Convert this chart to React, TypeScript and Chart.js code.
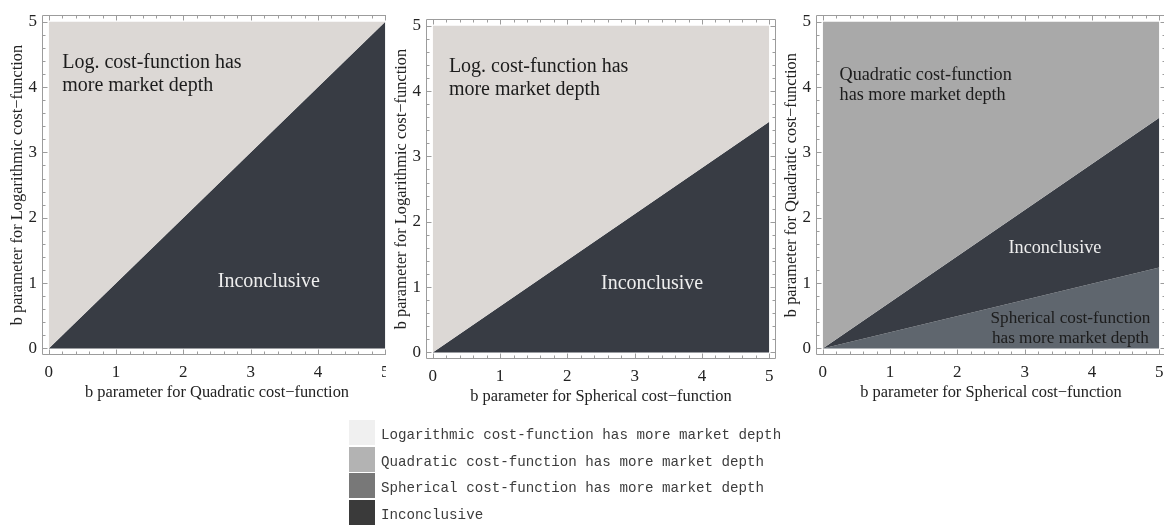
import React, { useEffect, useRef } from "react";
import { Chart, registerables } from "chart.js";

Chart.register(...registerables);

// ---------- data ----------
const xEnds = [0, 5];
const logVsQuadBoundary = [0, 5];
const logVsSphBoundary = [0, 3.53];
const quadVsSphUpper = [0, 3.53];
const quadVsSphLower = [0, 1.24];
const tickValues = [0, 1, 2, 3, 4, 5];
const tickLabels = ["0", "1", "2", "3", "4", "5"];
const axisMin = -0.1;
const axisMax = 5.1;

const xTitles = [
  "b parameter for Quadratic cost\u2212function",
  "b parameter for Spherical cost\u2212function",
  "b parameter for Spherical cost\u2212function",
];
const yTitles = [
  "b parameter for Logarithmic cost\u2212function",
  "b parameter for Logarithmic cost\u2212function",
  "b parameter for Quadratic cost\u2212function",
];

const legendLabels = [
  "Logarithmic cost-function has more market depth",
  "Quadratic cost-function has more market depth",
  "Spherical cost-function has more market depth",
  "Inconclusive",
];
const legendColors = ["#f0f0f0", "#b3b3b3", "#787878", "#3a3a3a"];

const C_LOG = "#dcd8d5";
const C_QUAD = "#a9a9a9";
const C_SPH = "#5f666e";
const C_INC = "#383c44";
const DARK_TEXT = "#1c1c1c";
const LIGHT_TEXT = "#eeeeee";

type Note = { text: string; x: number; y: number; align: CanvasTextAlign; color: string; size: number };

const notes1: Note[] = [
  { text: "Log. cost-function has", x: 0.2, y: 4.37, align: "left", color: DARK_TEXT, size: 20 },
  { text: "more market depth", x: 0.2, y: 4.02, align: "left", color: DARK_TEXT, size: 20 },
  { text: "Inconclusive", x: 3.27, y: 1.02, align: "center", color: LIGHT_TEXT, size: 20 },
];
const notes2: Note[] = [
  { text: "Log. cost-function has", x: 0.24, y: 4.37, align: "left", color: DARK_TEXT, size: 20 },
  { text: "more market depth", x: 0.24, y: 4.02, align: "left", color: DARK_TEXT, size: 20 },
  { text: "Inconclusive", x: 3.26, y: 1.05, align: "center", color: LIGHT_TEXT, size: 20 },
];
const notes3: Note[] = [
  { text: "Quadratic cost-function", x: 0.25, y: 4.18, align: "left", color: DARK_TEXT, size: 18.2 },
  { text: "has more market depth", x: 0.25, y: 3.87, align: "left", color: DARK_TEXT, size: 18.2 },
  { text: "Inconclusive", x: 3.45, y: 1.54, align: "center", color: LIGHT_TEXT, size: 18.2 },
  { text: "Spherical cost-function", x: 3.68, y: 0.46, align: "center", color: DARK_TEXT, size: 17.2 },
  { text: "has more market depth", x: 3.68, y: 0.16, align: "center", color: DARK_TEXT, size: 17.2 },
];

const SERIF = '"Liberation Serif", "Times New Roman", serif';

const pts = (ys: number[]) => xEnds.map((x, i) => ({ x, y: ys[i] }));

function regionDataset(ys: number[], fill: any, color: string) {
  return {
    data: pts(ys),
    fill,
    backgroundColor: color,
    borderColor: color,
    borderWidth: 0,
    pointRadius: 0,
    tension: 0,
  };
}

const panel1Datasets = () => [
  regionDataset(logVsQuadBoundary, { value: 5 }, C_LOG),
  regionDataset(logVsQuadBoundary, { value: 0 }, C_INC),
];
const panel2Datasets = () => [
  regionDataset(logVsSphBoundary, { value: 5 }, C_LOG),
  regionDataset(logVsSphBoundary, { value: 0 }, C_INC),
];
const panel3Datasets = () => [
  regionDataset(quadVsSphUpper, { value: 5 }, C_QUAD),
  regionDataset(quadVsSphUpper, "+1", C_INC),
  regionDataset(quadVsSphLower, { value: 0 }, C_SPH),
];

const frameTicksPlugin = {
  id: "frameTicks",
  afterDraw(chart: any) {
    const { ctx, chartArea: a, scales } = chart;
    const xs = scales.x;
    const ys = scales.y;
    ctx.save();
    ctx.strokeStyle = "#9c9c9c";
    ctx.lineWidth = 1;
    const L = Math.round(a.left) + 0.5;
    const R = Math.round(a.right) - 0.5;
    const T = Math.round(a.top) + 0.5;
    const B = Math.round(a.bottom) - 0.5;
    ctx.beginPath();
    ctx.rect(L, T, R - L, B - T);
    ctx.stroke();
    ctx.beginPath();
    for (let i = 0; i <= 25; i++) {
      const v = i * 0.2;
      const major = i % 5 === 0;
      const len = major ? 5 : 3;
      const px = Math.round(xs.getPixelForValue(v)) + 0.5;
      const py = Math.round(ys.getPixelForValue(v)) + 0.5;
      ctx.moveTo(px, B);
      ctx.lineTo(px, B - len);
      ctx.moveTo(px, T);
      ctx.lineTo(px, T + len);
      ctx.moveTo(L, py);
      ctx.lineTo(L + len, py);
      ctx.moveTo(R, py);
      ctx.lineTo(R - len, py);
    }
    ctx.stroke();
    ctx.restore();
  },
};

const notesPlugin = {
  id: "notes",
  afterDatasetsDraw(chart: any, _args: any, opts: any) {
    const notes: Note[] = opts.notes || [];
    const { ctx, scales } = chart;
    ctx.save();
    ctx.textBaseline = "middle";
    for (const n of notes) {
      ctx.font = `${n.size}px ${SERIF}`;
      ctx.fillStyle = n.color;
      ctx.textAlign = n.align;
      ctx.fillText(n.text, scales.x.getPixelForValue(n.x), scales.y.getPixelForValue(n.y));
    }
    ctx.restore();
  },
};

function makeConfig(datasets: any[], notes: Note[], xTitle: string, yTitle: string) {
  const tickFont = { family: SERIF, size: 17 };
  const titleFont = { family: SERIF, size: 16.4 };
  const setTicks = (s: any) => {
    s.ticks = tickValues.map((v) => ({ value: v }));
  };
  const fmt = (v: any) => {
    const i = tickValues.indexOf(Number(v));
    return i >= 0 ? tickLabels[i] : "";
  };
  return {
    type: "line",
    data: { datasets },
    plugins: [frameTicksPlugin, notesPlugin],
    options: {
      responsive: false,
      animation: false,
      devicePixelRatio: 1,
      layout: { padding: { top: 5, right: 8, left: 0, bottom: 0 } },
      plugins: {
        legend: { display: false },
        tooltip: { enabled: false },
        notes: { notes },
      },
      scales: {
        x: {
          type: "linear",
          min: axisMin,
          max: axisMax,
          afterBuildTicks: setTicks,
          afterFit: (s: any) => {
            s.height = 55;
          },
          grid: { display: false, drawTicks: false },
          border: { display: false },
          ticks: { padding: 7, color: "#222", font: tickFont, maxRotation: 0, autoSkip: false, callback: fmt },
          title: { display: true, text: xTitle, color: "#222", font: titleFont, padding: { top: 0, bottom: 7 } },
        },
        y: {
          type: "linear",
          min: axisMin,
          max: axisMax,
          afterBuildTicks: setTicks,
          afterFit: (s: any) => {
            s.width = 42;
          },
          grid: { display: false, drawTicks: false },
          border: { display: false },
          ticks: { padding: 5, color: "#222", font: tickFont, autoSkip: false, callback: fmt },
          title: { display: true, text: yTitle, color: "#222", font: titleFont, padding: { top: 8, bottom: 0 } },
        },
      },
    },
  };
}

function Panel({ datasets, notes, xTitle, yTitle }: any) {
  const ref = useRef<HTMLCanvasElement | null>(null);
  useEffect(() => {
    if (!ref.current) return;
    const chart = new Chart(ref.current, makeConfig(datasets(), notes, xTitle, yTitle) as any);
    return () => chart.destroy();
  }, []);
  return <canvas ref={ref} width={400} height={410} style={{ display: "block" }} />;
}

export default function App() {
  return (
    <div
      style={{
        position: "absolute",
        left: 0,
        top: 0,
        width: 1164,
        height: 525,
        overflow: "hidden",
        background: "#fff",
      }}
    >
      <div style={{ position: "absolute", left: 0, top: 0, width: 386, height: 410, overflow: "hidden" }}>
        <Panel datasets={panel1Datasets} notes={notes1} xTitle={xTitles[0]} yTitle={yTitles[0]} />
      </div>
      <div style={{ position: "absolute", left: 384, top: 4, width: 400, height: 410 }}>
        <Panel datasets={panel2Datasets} notes={notes2} xTitle={xTitles[1]} yTitle={yTitles[1]} />
      </div>
      <div style={{ position: "absolute", left: 774, top: 0, width: 400, height: 410 }}>
        <Panel datasets={panel3Datasets} notes={notes3} xTitle={xTitles[2]} yTitle={yTitles[2]} />
      </div>
      <div style={{ position: "absolute", left: 349, top: 420 }}>
        {legendLabels.map((label, i) => (
          <div key={label} style={{ position: "relative", height: 26.7 }}>
            <div
              style={{
                position: "absolute",
                left: 0,
                top: 0,
                width: 26,
                height: 25,
                background: legendColors[i],
              }}
            />
            <div
              style={{
                position: "absolute",
                left: 32,
                top: 3,
                height: 25,
                lineHeight: "25px",
                fontFamily: '"Liberation Mono", "Courier New", monospace',
                fontSize: 14.2,
                color: "#3c3c3c",
                whiteSpace: "nowrap",
              }}
            >
              {label}
            </div>
          </div>
        ))}
      </div>
    </div>
  );
}
